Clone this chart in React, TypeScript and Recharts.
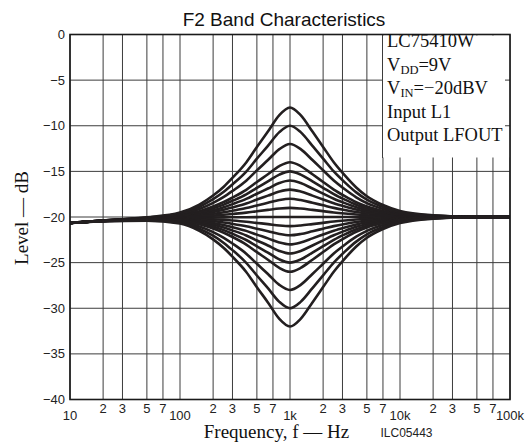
import React from 'react';
import { LineChart, Line, XAxis, YAxis, CartesianGrid } from 'recharts';

const freqs = [10, 20, 50, 100, 150, 200, 250, 300, 400, 500, 630, 800, 1000, 1250, 1600, 2000, 2500, 3150, 4000, 5000, 7000, 10000, 20000, 50000, 100000];

const g12 = [-20.65, -20.38, -20.04, -19.52, -18.64, -17.65, -16.68, -15.71, -14.02, -12.33, -10.64, -8.84, -8, -8.84, -10.64, -12.32, -14, -15.44, -16.76, -17.72, -18.68, -19.34, -19.82, -20, -20];
const g10 = [-20.65, -20.39, -20.07, -19.62, -18.88, -18.05, -17.24, -16.43, -15.02, -13.61, -12.2, -10.7, -10, -10.7, -12.2, -13.6, -15, -16.2, -17.3, -18.1, -18.9, -19.45, -19.85, -20, -20];
const g8 = [-20.65, -20.4, -20.1, -19.72, -19.12, -18.45, -17.8, -17.15, -16.02, -14.89, -13.76, -12.56, -12, -12.56, -13.76, -14.88, -16, -16.96, -17.84, -18.48, -19.12, -19.56, -19.88, -20, -20];
const g6 = [-20.65, -20.4, -20.13, -19.82, -19.36, -18.85, -18.36, -17.87, -17.02, -16.17, -15.32, -14.42, -14, -14.42, -15.32, -16.16, -17, -17.72, -18.38, -18.86, -19.34, -19.67, -19.91, -20, -20];
const g5 = [-20.65, -20.4, -20.15, -19.87, -19.48, -19.05, -18.64, -18.23, -17.52, -16.81, -16.1, -15.35, -15, -15.35, -16.1, -16.8, -17.5, -18.1, -18.65, -19.05, -19.45, -19.73, -19.93, -20, -20];
const g4 = [-20.65, -20.41, -20.16, -19.92, -19.6, -19.25, -18.92, -18.59, -18.02, -17.45, -16.88, -16.28, -16, -16.28, -16.88, -17.44, -18, -18.48, -18.92, -19.24, -19.56, -19.78, -19.94, -20, -20];
const g3 = [-20.65, -20.41, -20.18, -19.97, -19.72, -19.45, -19.2, -18.95, -18.52, -18.09, -17.66, -17.21, -17, -17.21, -17.66, -18.08, -18.5, -18.86, -19.19, -19.43, -19.67, -19.84, -19.96, -20, -20];
const g2 = [-20.65, -20.41, -20.19, -20.02, -19.84, -19.65, -19.48, -19.31, -19.02, -18.73, -18.44, -18.14, -18, -18.14, -18.44, -18.72, -19, -19.24, -19.46, -19.62, -19.78, -19.89, -19.97, -20, -20];
const g1 = [-20.65, -20.42, -20.21, -20.07, -19.96, -19.85, -19.76, -19.67, -19.52, -19.37, -19.22, -19.07, -19, -19.07, -19.22, -19.36, -19.5, -19.62, -19.73, -19.81, -19.89, -19.95, -19.99, -20, -20];
const g0 = [-20.65, -20.42, -20.22, -20.12, -20.08, -20.05, -20.04, -20.03, -20.02, -20.01, -20, -20, -20, -20, -20, -20, -20, -20, -20, -20, -20, -20, -20, -20, -20];
const c1 = [-20.65, -20.42, -20.24, -20.17, -20.2, -20.25, -20.32, -20.39, -20.52, -20.65, -20.78, -20.93, -21, -20.93, -20.78, -20.64, -20.5, -20.38, -20.27, -20.19, -20.11, -20.06, -20.02, -20, -20];
const c2 = [-20.65, -20.43, -20.25, -20.22, -20.32, -20.45, -20.6, -20.75, -21.02, -21.29, -21.56, -21.86, -22, -21.86, -21.56, -21.28, -21, -20.76, -20.54, -20.38, -20.22, -20.11, -20.03, -20, -20];
const c3 = [-20.65, -20.43, -20.27, -20.27, -20.44, -20.65, -20.88, -21.11, -21.52, -21.93, -22.34, -22.79, -23, -22.79, -22.34, -21.92, -21.5, -21.14, -20.81, -20.57, -20.33, -20.17, -20.05, -20, -20];
const c4 = [-20.65, -20.43, -20.28, -20.32, -20.56, -20.85, -21.16, -21.47, -22.02, -22.57, -23.12, -23.72, -24, -23.72, -23.12, -22.56, -22, -21.52, -21.08, -20.76, -20.44, -20.22, -20.06, -20, -20];
const c5 = [-20.65, -20.44, -20.3, -20.37, -20.68, -21.05, -21.44, -21.83, -22.52, -23.21, -23.9, -24.65, -25, -24.65, -23.9, -23.2, -22.5, -21.9, -21.35, -20.95, -20.55, -20.28, -20.08, -20, -20];
const c6 = [-20.65, -20.44, -20.31, -20.42, -20.8, -21.25, -21.72, -22.19, -23.02, -23.85, -24.68, -25.58, -26, -25.58, -24.68, -23.84, -23, -22.28, -21.62, -21.14, -20.66, -20.33, -20.09, -20, -20];
const c8 = [-20.65, -20.44, -20.34, -20.52, -21.04, -21.65, -22.28, -22.91, -24.02, -25.13, -26.24, -27.44, -28, -27.44, -26.24, -25.12, -24, -23.04, -22.16, -21.52, -20.88, -20.44, -20.12, -20, -20];
const c10 = [-20.65, -20.45, -20.37, -20.62, -21.28, -22.05, -22.84, -23.63, -25.02, -26.41, -27.8, -29.3, -30, -29.3, -27.8, -26.4, -25, -23.8, -22.7, -21.9, -21.1, -20.55, -20.15, -20, -20];
const c12 = [-20.65, -20.46, -20.4, -20.72, -21.52, -22.45, -23.4, -24.35, -26.02, -27.69, -29.36, -31.16, -32, -31.16, -29.36, -27.68, -26, -24.56, -23.24, -22.28, -21.32, -20.66, -20.18, -20, -20];

const series = [g12, g10, g8, g6, g5, g4, g3, g2, g1, g0, c1, c2, c3, c4, c5, c6, c8, c10, c12];

const xTicks = [10, 20, 30, 50, 70, 100, 200, 300, 500, 700, 1000, 2000, 3000, 5000, 7000, 10000, 20000, 30000, 50000, 70000, 100000];
const xTickLabels = ['10', '2', '3', '5', '7', '100', '2', '3', '5', '7', '1k', '2', '3', '5', '7', '10k', '2', '3', '5', '7', '100k'];
const yTicks = [0, -5, -10, -15, -20, -25, -30, -35, -40];
const yTickLabels = ['0', '\u22125', '\u221210', '\u221215', '\u221220', '\u221225', '\u221230', '\u221235', '\u221240'];

const data = freqs.map((f, i) => {
  const row: Record<string, number> = { f };
  series.forEach((s, k) => {
    row['s' + k] = s[i];
  });
  return row;
});

const SANS = 'Liberation Sans, Arial, Helvetica, sans-serif';
const SERIF = 'Liberation Serif, "Times New Roman", Times, serif';
const INK = '#231f20';
const MINUS = '\u2212';

const XTick = (props: any) => {
  const { x, y, payload } = props;
  const i = xTicks.indexOf(payload.value);
  const label = i >= 0 ? xTickLabels[i] : '';
  const major = i % 5 === 0;
  return (
    <text x={x} y={y + (major ? 20 : 13)} textAnchor="middle" fontFamily={SANS} fontSize={13} fill="#222">
      {label}
    </text>
  );
};

const YTick = (props: any) => {
  const { x, y, payload } = props;
  const i = yTicks.indexOf(payload.value);
  return (
    <text x={x - 5} y={y + 4.5} textAnchor="end" fontFamily={SANS} fontSize={13} fill="#222">
      {i >= 0 ? yTickLabels[i] : ''}
    </text>
  );
};

export default function App() {
  return (
    <div style={{ position: 'absolute', left: 0, top: 0, width: 531, height: 445, background: '#fff' }}>
      <LineChart width={531} height={445} data={data} margin={{ top: 34.5, right: 21, bottom: 15.5, left: 30 }}>
        <CartesianGrid stroke="#3c3c3c" strokeWidth={1} />
        <XAxis
          dataKey="f"
          type="number"
          scale="log"
          domain={[10, 100000]}
          ticks={xTicks}
          interval={0}
          height={30}
          tickSize={0}
          tickMargin={0}
          axisLine={false}
          tickLine={false}
          tick={<XTick />}
          allowDataOverflow
        />
        <YAxis
          type="number"
          domain={[-40, 0]}
          ticks={yTicks}
          interval={0}
          width={40}
          tickSize={0}
          tickMargin={0}
          axisLine={false}
          tickLine={false}
          tick={<YTick />}
          allowDataOverflow
        />
        {series.map((_, k) => (
          <Line
            key={k}
            dataKey={'s' + k}
            type="monotone"
            stroke={INK}
            strokeWidth={2.6}
            dot={false}
            activeDot={false}
            isAnimationActive={false}
          />
        ))}
      </LineChart>
      <svg width={531} height={445} style={{ position: 'absolute', left: 0, top: 0, pointerEvents: 'none' }}>
        <rect x={383} y={35.5} width={126.5} height={122} fill="#fff" />
        <line x1={382.5} y1={34.5} x2={382.5} y2={158} stroke="#3c3c3c" strokeWidth={1} />
        <line x1={505} y1={80.1} x2={510} y2={80.1} stroke="#3c3c3c" strokeWidth={1} />
        <line x1={505} y1={125.75} x2={510} y2={125.75} stroke="#3c3c3c" strokeWidth={1} />
        <rect x={70} y={34.5} width={440} height={365} fill="none" stroke="#1a1a1a" strokeWidth={1.6} />
        <text x={284} y={26} textAnchor="middle" fontFamily={SANS} fontSize={19} fill="#111">F2 Band Characteristics</text>
        <g fontFamily={SERIF} fontSize={18.5} fill="#111">
          <text x={387} y={47}>LC75410W</text>
          <text x={387} y={70.5}>V<tspan fontSize={12.5} dy={3}>DD</tspan><tspan dy={-3}>=9V</tspan></text>
          <text x={387} y={94}>V<tspan fontSize={12.5} dy={3}>IN</tspan><tspan dy={-3}>{'=' + MINUS + '20dBV'}</tspan></text>
          <text x={387} y={117.5}>Input L1</text>
          <text x={387} y={141}>Output LFOUT</text>
        </g>
        <text x={276.5} y={438} textAnchor="middle" fontFamily={SERIF} fontSize={19} fill="#111">Frequency, f — Hz</text>
        <text x={0} y={0} transform="translate(28 218) rotate(-90)" textAnchor="middle" fontFamily={SERIF} fontSize={19} fill="#111">Level — dB</text>
        <text x={406.5} y={437} textAnchor="middle" fontFamily={SANS} fontSize={12} fill="#222">ILC05443</text>
      </svg>
    </div>
  );
}
